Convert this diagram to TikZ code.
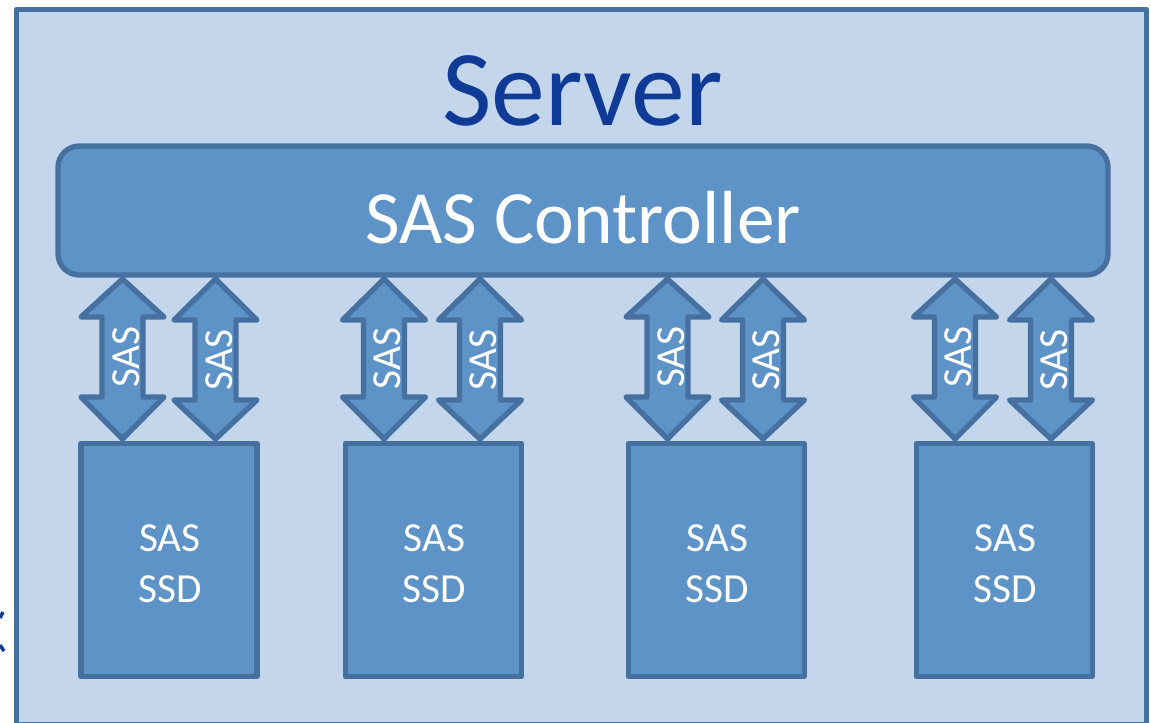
\documentclass[tikz,border=0pt]{standalone}
\usepackage{fontspec}
\setmainfont{Carlito}
\definecolor{edgeblue}{HTML}{46709F}
\definecolor{fillblue}{HTML}{5E93C8}
\definecolor{paleblue}{HTML}{C4D6EB}
\definecolor{titleblue}{HTML}{0F3A96}
\tikzset{
  outerbox/.style={draw=edgeblue,fill=paleblue,line width=4pt,line join=round},
  blockbox/.style={draw=edgeblue,fill=fillblue,line width=4pt,line join=round,text=white,outer sep=0pt},
  sastext/.style={text=white,font=\fontsize{31pt}{31pt}\selectfont,inner sep=0pt},
  dbarrow/.style={draw=edgeblue,fill=fillblue,line width=4pt,line join=round}
}
% #1 name, #2 centre x, #3 head top y, #4 head bottom y
\newcommand{\sasarrow}[4]{%
  \draw[dbarrow] (#2,279) -- (#2+41.5,#3) -- (#2+20.5,#3) -- (#2+20.5,#4) -- (#2+41.5,#4)
     -- (#2,439) -- (#2-41.5,#4) -- (#2-20.5,#4) -- (#2-20.5,#3) -- (#2-41.5,#3) -- cycle;
  \node[sastext,rotate=90] (#1) at (#2+3.5,{(#3+#4)/2}) {SAS};
}
\newcommand{\ssdbox}[2]{%
  \node[blockbox,draw,minimum width=176*0.75pt,minimum height=233*0.75pt,inner sep=0pt,anchor=north west,
    align=center,font=\fontsize{31pt}{38.5pt}\selectfont] (#1) at (#2,443.5)
    {\rule{0pt}{26pt}\hspace*{1.5pt}SAS\\\hspace*{1.5pt}SSD};
}
\begin{document}
\begin{tikzpicture}[x=0.75pt,y=-0.75pt]
\useasboundingbox (0,0) rectangle (1151,723);
\begin{scope}
\clip (0,0) rectangle (1151,723);
\draw[outerbox] (16.5,9.5) rectangle (1146.5,725);
\node[text=titleblue,font=\fontsize{80.8pt}{80.8pt}\selectfont,inner sep=0pt] (server) at (582.5,91) {Server};
\node[blockbox,rounded corners=16pt,minimum width=1050*0.75pt,minimum height=129*0.75pt,inner sep=0pt,
   text height=49pt,text depth=0pt,
   font=\fontsize{56.4pt}{56.4pt}\selectfont] (ctrl) at (583,210.5) {SAS Controller};
\sasarrow{a1}{122.5}{317}{397}
\sasarrow{a2}{215.5}{320}{400}
\sasarrow{a3}{384}{320}{397}
\sasarrow{a4}{480}{320}{400}
\sasarrow{a5}{667.5}{317}{397}
\sasarrow{a6}{763}{320}{400}
\sasarrow{a7}{955}{317}{397}
\sasarrow{a8}{1051}{320}{400}
\ssdbox{s1}{81}
\ssdbox{s2}{345.5}
\ssdbox{s3}{628.5}
\ssdbox{s4}{916.5}
\draw[titleblue,line width=2.6pt] (3,612) -- (0,618) (0,645) -- (4,651);
\end{scope}
\end{tikzpicture}
\end{document}
